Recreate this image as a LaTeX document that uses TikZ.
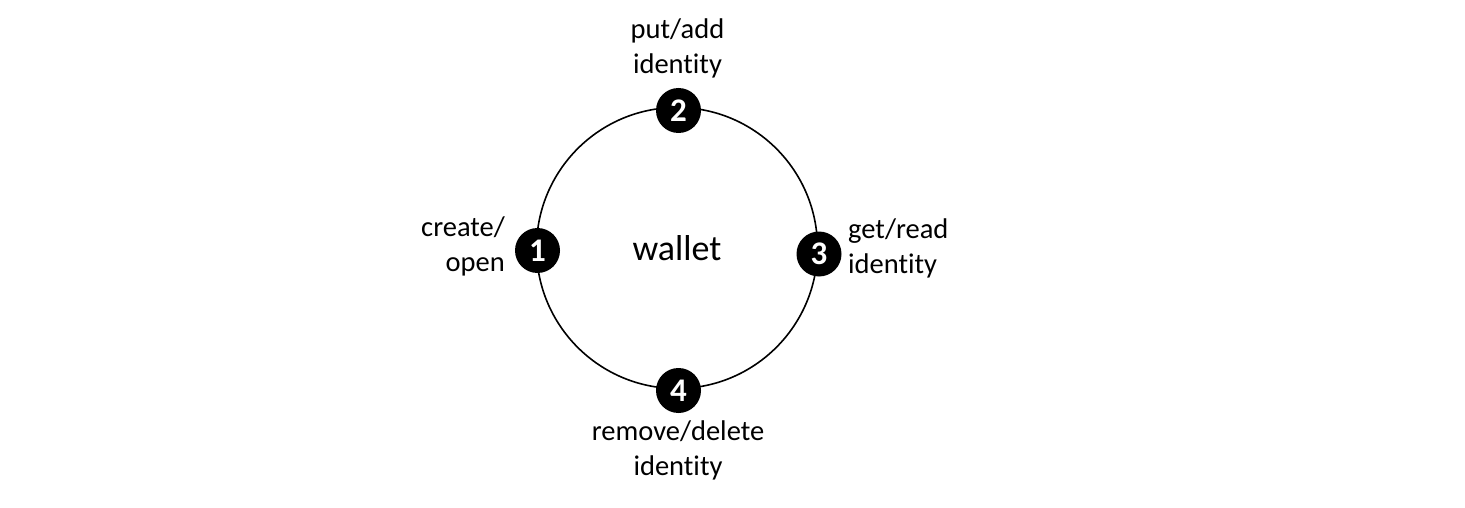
\documentclass[tikz,border=0pt]{standalone}
\usepackage{fontspec}
\setmainfont{Carlito}[Ligatures=NoCommon]
\usetikzlibrary{positioning}
\tikzset{
  ring_n/.style = {circle, draw=black, line width=1.6pt, inner sep=0pt,
    minimum size=281pt, font=\fontsize{36}{40}\selectfont},
  step_n/.style = {circle, fill=black, inner sep=0pt, minimum size=45pt,
    text=white, font=\fontsize{33}{33}\selectfont\bfseries},% numbered step
  act_l/.style = {inner sep=0pt, font=\fontsize{28.5}{35}\selectfont}% action label
}

\begin{document}
\begin{tikzpicture}[x=1pt,y=-1pt]
\useasboundingbox (0,0) rectangle (1465,508);
    \node [ring_n] (wallet) at (677,248) {wallet};
    \node [step_n] (s1) at (537.5,250.5) {1};
    \node [step_n] (s2) at (678.5,110.5) {2};
    \node [step_n] (s3) at (819,254) {3};
    \node [step_n] (s4) at (678.5,390.5) {4};
    \node [act_l, align=right, anchor=base east] (l1) at (505,271.7) {create/\\open};
    \node [act_l, align=center, anchor=base] (l2) at (677.5,73.3) {put/add\\identity};
    \node [act_l, align=left, anchor=base west] (l3) at (848,273) {get/read\\identity};
    \node [act_l, align=center, anchor=base] (l4) at (678,475) {remove/delete\\identity};
\end{tikzpicture}
\end{document}
